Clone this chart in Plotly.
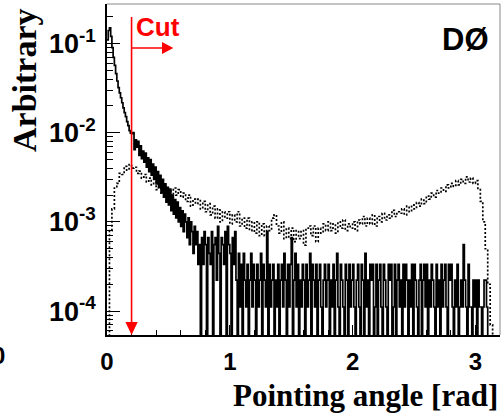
import numpy as np
import plotly.graph_objects as go

# ---------------- data ----------------
SIG_BIN = 0.01            # rad, signal histogram bin width
SIG_NORM = 9000.0         # normalisation (counts -> arbitrary units)
sig_counts = [
    990, 1260, 1350, 1080, 810, 630, 513, 414, 342, 288, 252, 222, 195, 171, 151, 136, 120, 108, 95, 89,
    88, 90, 58, 75, 62, 72, 50, 64, 46, 56, 42, 53, 37, 47, 33, 45, 30, 40, 27, 37,
    24, 33, 22, 30, 19, 27, 17, 24, 15, 22, 14, 21, 12, 18, 11, 16, 10, 15, 9, 13,
    8, 12, 7, 11, 9, 6, 10, 5, 9, 7, 4, 8, 5, 7, 3, 5, 0, 6, 3, 7,
    5, 0, 6, 4, 3, 7, 0, 5, 6, 2, 8, 4, 0, 6, 5, 3, 7, 0, 8, 5,
    4, 0, 6, 3, 7, 2, 0, 4, 1, 3, 0, 4, 2, 1, 3, 0, 2, 4, 1, 3,
    2, 0, 3, 1, 2, 4, 0, 3, 2, 1, 7, 0, 3, 1, 2, 3, 0, 2, 1, 3,
    0, 2, 3, 1, 4, 2, 0, 3, 1, 3, 6, 0, 2, 4, 1, 3, 0, 2, 1, 3,
    2, 0, 3, 1, 2, 4, 0, 3, 2, 1, 3, 0, 2, 3, 1, 0, 2, 3, 1, 2,
    3, 0, 2, 1, 3, 0, 2, 4, 1, 0, 3, 2, 1, 0, 3, 2, 0, 3, 1, 2,
    3, 1, 0, 2, 3, 1, 0, 3, 2, 0, 4, 1, 2, 0, 3, 2, 3, 0, 1, 3,
    0, 2, 3, 1, 0, 3, 2, 1, 0, 3, 2, 3, 0, 1, 3, 0, 2, 3, 1, 2,
    0, 3, 1, 3, 2, 0, 2, 1, 3, 0, 3, 2, 1, 0, 2, 3, 0, 2, 3, 1,
    3, 0, 2, 1, 3, 2, 1, 0, 3, 1, 2, 0, 3, 1, 2, 3, 1, 0, 3, 2,
    3, 1, 0, 2, 1, 3, 0, 1, 2, 1, 5, 2, 1, 0, 3, 1, 1, 0, 2, 1,
    2, 0, 2, 1, 1, 0, 1, 2, 2, 1, 0, 0, 0, 0, 0, 0, 0, 0, 0, 0,
]

BKG_BIN = 0.02            # rad, background histogram bin width
BKG_UNIT = 1e-4           # background values are given in units of 1e-4
bkg_vals = [
    0.3, 8, 14, 24, 27, 35, 34, 42, 38, 44, 40, 41, 35, 37, 31, 34, 28, 31, 26, 28,
    23, 27, 21, 25, 20, 23, 19, 24, 20, 23, 19, 21, 17, 20, 15, 18, 16, 18, 14, 17,
    13, 16, 12, 15, 11, 14, 10, 13, 11, 13, 9.5, 12, 10, 13, 9, 11, 8.5, 11, 8, 10,
    7.5, 10, 7, 9.5, 7, 9, 8, 11, 12, 9, 7.5, 10, 6.5, 8.5, 6.5, 8.5, 6, 8, 6.5, 8,
    5.5, 8.5, 9, 7, 9, 6, 8.5, 7.5, 9.5, 8, 10, 8, 9.5, 7.5, 10, 8.5, 10.5, 8, 9.5, 8.5,
    10, 8, 10.5, 9.5, 11.5, 9, 11, 9.5, 12, 9, 11.5, 10, 12.5, 10.5, 12, 11, 13.5, 11.5, 13, 12.5,
    14, 12, 15, 13, 15.5, 14, 16.5, 15, 18, 16, 19.5, 18, 21, 19, 22.5, 21, 24, 22, 26, 24,
    27, 25, 29, 26, 30, 27, 32, 28, 31, 27, 29, 23, 17, 10, 5, 2, 0.7, 0, 0, 0,
]

CUT = 0.2                 # rad, cut value
x_tick_vals = [0, 1, 2, 3]
x_tick_text = ["0", "1", "2", "3"]
y_tick_vals = [1e-4, 1e-3, 1e-2, 1e-1]
y_tick_text = ["10<sup>-4</sup>", "10<sup>-3</sup>", "10<sup>-2</sup>", "10<sup>-1</sup>"]

X_RANGE = [0, 3.2]
Y_RANGE_LOG = [-4.268, -0.557]
FLOOR = 1e-7              # empty bins drawn below the axis


def step_xy(bin_w, vals):
    vals = np.asarray(vals, dtype=float)
    edges = np.arange(len(vals) + 1) * bin_w
    y = np.where(vals > 0, vals, FLOOR)
    y = np.append(y, y[-1])
    return edges, y


sx, sy = step_xy(SIG_BIN, np.asarray(sig_counts) / SIG_NORM)
bx, by = step_xy(BKG_BIN, np.asarray(bkg_vals) * BKG_UNIT)

fig = go.Figure()
fig.add_trace(go.Scatter(x=bx, y=by, mode="lines",
                         line=dict(color="black", width=1.7, dash="2px,2px", shape="hv"),
                         showlegend=False, hoverinfo="skip"))
fig.add_trace(go.Scatter(x=sx, y=sy, mode="lines",
                         line=dict(color="black", width=1.7, shape="hv"),
                         showlegend=False, hoverinfo="skip"))

# plot area geometry in pixels (for annotation placement)
W, H = 503, 415
L, R, T, B = 107, 3, 4, 80
PW, PH = W - L - R, H - T - B


def px(xp):
    return (xp - L) / PW


def py(yp):
    return (H - B - yp) / PH


red = "#ff0000"
shapes = [
    # frame top & right (grey)
    dict(type="line", xref="paper", yref="paper", x0=0, x1=1, y0=1, y1=1,
         line=dict(color="#888888", width=1)),
    dict(type="line", xref="paper", yref="paper", x0=1, x1=1, y0=0, y1=1,
         line=dict(color="#888888", width=1)),
    # cut: vertical line with downward arrow head
    dict(type="line", xref="x", yref="paper", x0=CUT, x1=CUT, y0=0.03, y1=py(17),
         line=dict(color=red, width=1.6)),
    dict(type="path", xref="x", yref="paper",
         path=f"M {CUT-0.05},{py(322)} L {CUT+0.05},{py(322)} L {CUT},{py(335)} Z",
         fillcolor=red, line=dict(color=red, width=0)),
    # horizontal arrow
    dict(type="line", xref="x", yref="paper", x0=CUT, x1=0.46, y0=py(48), y1=py(48),
         line=dict(color=red, width=1.6)),
    dict(type="path", xref="x", yref="paper",
         path=f"M 0.448,{py(42)} L 0.540,{py(48)} L 0.448,{py(54)} Z",
         fillcolor=red, line=dict(color=red, width=0)),
]

annotations = [
    dict(text="Cut", xref="x", yref="paper", x=CUT + 0.02, y=py(27), xanchor="left",
         yanchor="middle", showarrow=False,
         font=dict(family="Liberation Sans", size=26, color=red, weight="bold")),
    dict(text="DØ", xref="paper", yref="paper", x=px(491), y=py(39), xanchor="right",
         yanchor="middle", showarrow=False,
         font=dict(family="Liberation Sans", size=31, color="black", weight="bold")),
    dict(text="Arbitrary", xref="paper", yref="paper", x=px(25), y=py(6), xanchor="center",
         yanchor="top", textangle=-90, showarrow=False,
         font=dict(family="Liberation Serif", size=34, color="black", weight="bold")),
    dict(text="Pointing angle [rad]", xref="paper", yref="paper", x=1.0, y=py(396),
         xanchor="right", yanchor="middle", showarrow=False,
         font=dict(family="Liberation Serif", size=31, color="black", weight="bold")),
    # partial tick label from the neighbouring panel
    dict(text="0", xref="paper", yref="paper", x=px(-2), y=py(355), xanchor="center",
         yanchor="middle", showarrow=False,
         font=dict(family="Liberation Sans", size=24, color="black", weight="bold")),
]

fig.update_layout(
    width=W, height=H,
    margin=dict(l=L, r=R, t=T, b=B, pad=0),
    paper_bgcolor="white", plot_bgcolor="white",
    shapes=shapes, annotations=annotations,
    xaxis=dict(range=X_RANGE, showgrid=False, zeroline=False,
               showline=True, linecolor="black", linewidth=1.5,
               ticks="inside", ticklen=10, tickwidth=1, tickcolor="black",
               tickmode="array", tickvals=x_tick_vals, ticktext=x_tick_text,
               tickfont=dict(family="Liberation Sans", size=24, color="black", weight="bold"),
               minor=dict(dtick=0.2, tick0=0, ticks="inside", ticklen=5, tickcolor="black",
                          tickwidth=1, showgrid=False),
               ticklabelstandoff=4, automargin=False),
    yaxis=dict(type="log", range=Y_RANGE_LOG, showgrid=False, zeroline=False,
               showline=True, linecolor="black", linewidth=1.5,
               ticks="inside", ticklen=13, tickwidth=1, tickcolor="black",
               tickmode="array", tickvals=y_tick_vals, ticktext=y_tick_text,
               tickfont=dict(family="Liberation Sans", size=27, color="black", weight="bold"),
               minor=dict(dtick="D1", ticks="inside", ticklen=6, tickcolor="black",
                          tickwidth=1, showgrid=False),
               ticklabelstandoff=4, automargin=False),
)

fig.write_html("out.html")
